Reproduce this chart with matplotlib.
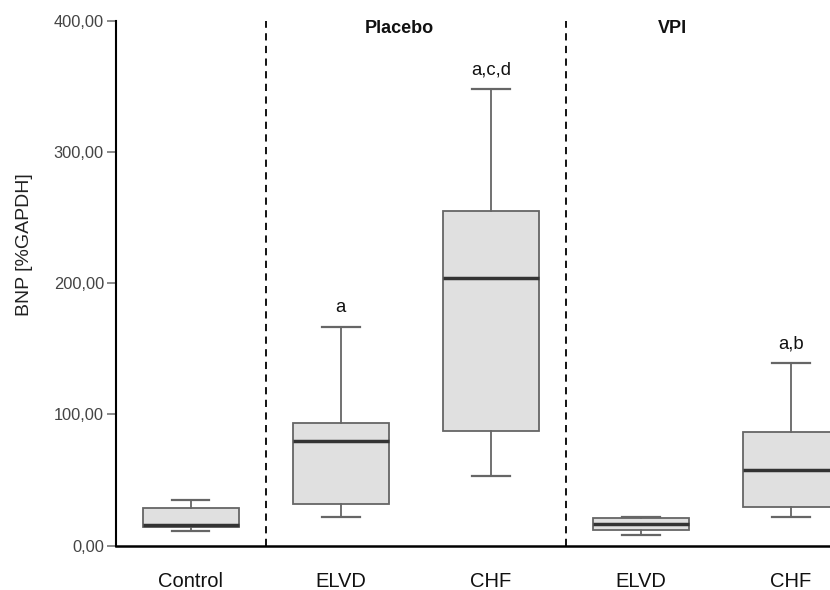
import matplotlib
matplotlib.use("Agg")
import matplotlib.pyplot as plt
from matplotlib.ticker import FuncFormatter

plt.rcParams['font.family'] = ['Liberation Sans', 'DejaVu Sans']

# Data
categories = ["Control", "ELVD", "CHF", "ELVD", "CHF"]
whisker_low = [11.3, 22.0, 52.7, 8.0, 22.0]
q1 = [14.3, 31.9, 87.2, 11.6, 29.1]
median = [15.8, 79.9, 203.8, 16.6, 57.3]
q3 = [28.6, 93.3, 254.9, 20.7, 86.2]
whisker_high = [34.3, 166.5, 347.8, 21.5, 139.0]
annotations = ["", "a", "a,c,d", "", "a,b"]
groups = ["Placebo", "VPI"]
group_x = [1.39, 3.21]
yticks = [0, 100, 200, 300, 400]

fig = plt.figure(figsize=(8.3, 5.9), dpi=100)
ax = fig.add_axes([0.1394, 0.0754, 0.904, 0.8898])

stats = []
for i, c in enumerate(categories):
    stats.append(dict(label=c, whislo=whisker_low[i], q1=q1[i], med=median[i],
                      q3=q3[i], whishi=whisker_high[i], fliers=[]))

positions = list(range(len(categories)))
ax.bxp(stats, positions=positions, widths=0.64, capwidths=0.25,
       patch_artist=True, showfliers=False,
       boxprops=dict(facecolor='#e0e0e0', edgecolor='#666666', linewidth=1.3),
       medianprops=dict(color='#333333', linewidth=2.5),
       whiskerprops=dict(color='#666666', linewidth=1.3),
       capprops=dict(color='#666666', linewidth=1.6))

for x in [0.5, 2.5]:
    ax.plot([x, x], [0, 400], color='black', linestyle=(0, (4, 3)), linewidth=1.3,
            clip_on=False, zorder=1)

for i, t in enumerate(annotations):
    if t:
        ax.annotate(t, xy=(positions[i], whisker_high[i]), xytext=(0, 10.5),
                    textcoords='offset points', ha='center', va='baseline',
                    fontsize=13.3, color='#111111')

for g, gx in zip(groups, group_x):
    ax.text(gx, 394, g, ha='center', va='center', fontsize=13, fontweight='bold',
            color='#111111')

ax.set_xlim(-0.5, 4.5)
ax.set_ylim(0, 400)
ax.set_yticks(yticks)
ax.yaxis.set_major_formatter(FuncFormatter(lambda v, p: f"{v:.2f}".replace('.', ',')))
ax.set_xticks(positions)
ax.set_xticklabels(categories, fontsize=14.5, color='#111111')
ax.tick_params(axis='x', length=0, pad=19)
ax.tick_params(axis='y', length=6.5, width=1.2, color='#777777', labelsize=11.8,
               labelcolor='#444444', pad=2)
ax.set_ylabel("BNP [%GAPDH]", fontsize=14, color='#222222')
ax.yaxis.set_label_coords(-0.110, 0.574)

for s in ['top', 'right']:
    ax.spines[s].set_visible(False)
ax.spines['left'].set_linewidth(1.5)
ax.spines['bottom'].set_linewidth(1.8)
ax.spines['left'].set_color('black')
ax.spines['bottom'].set_color('black')

fig.savefig("out.png", dpi=100)
